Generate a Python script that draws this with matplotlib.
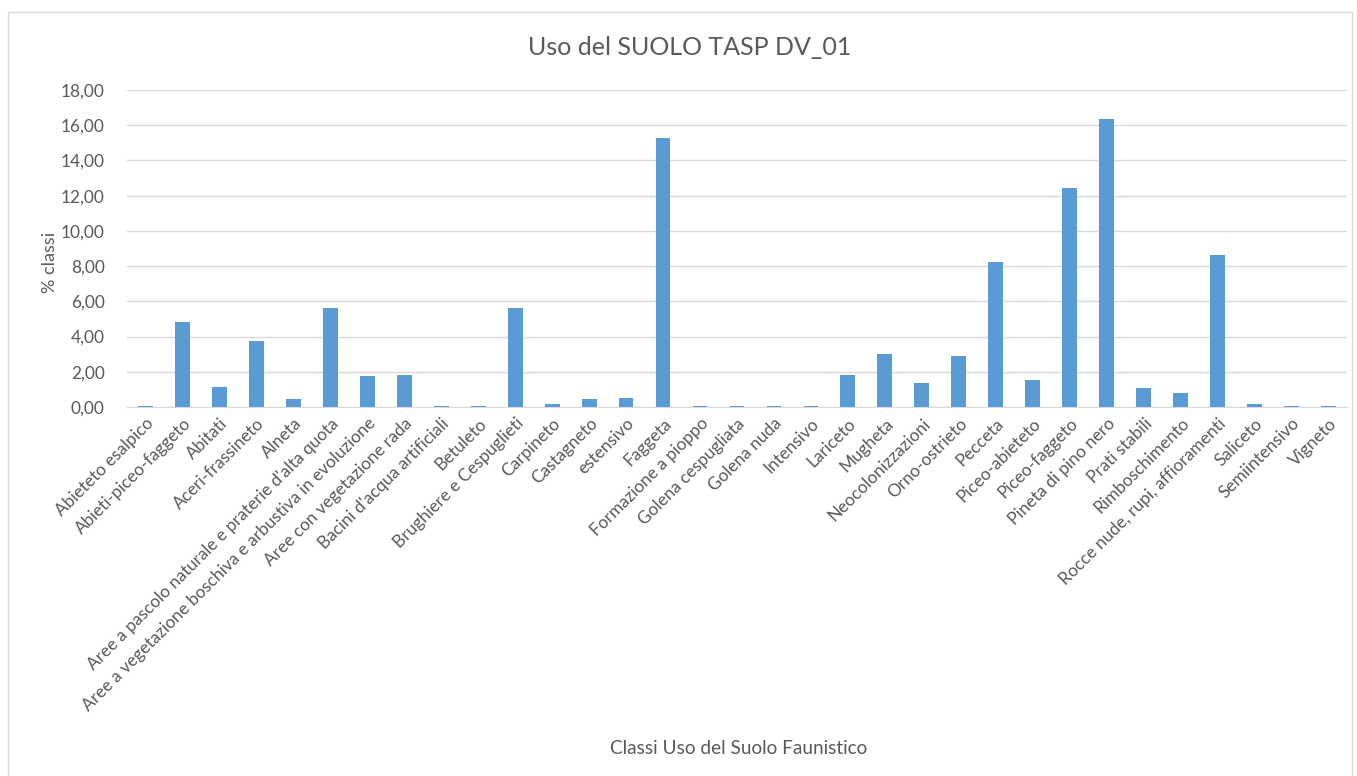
import numpy as np
import matplotlib.pyplot as plt
from matplotlib.patches import Rectangle
from matplotlib.ticker import FuncFormatter

plt.rcParams['font.family'] = ['Lato', 'DejaVu Sans']

# Classi uso del suolo e percentuali
classi = ['Abieteto esalpico', 'Abieti-piceo-faggeto', 'Abitati', 'Aceri-frassineto',
          'Alneta', "Aree a pascolo naturale e praterie d'alta quota",
          'Aree a vegetazione boschiva e arbustiva in evoluzione',
          'Aree con vegetazione rada', "Bacini d'acqua artificiali", 'Betuleto',
          'Brughiere e Cespuglieti', 'Carpineto', 'Castagneto', 'estensivo', 'Faggeta',
          'Formazione a pioppo', 'Golena cespugliata', 'Golena nuda', 'Intensivo',
          'Lariceto', 'Mugheta', 'Neocolonizzazioni', 'Orno-ostrieto', 'Pecceta',
          'Piceo-abieteto', 'Piceo-faggeto', 'Pineta di pino nero', 'Prati stabili',
          'Rimboschimento', 'Rocce nude, rupi, affioramenti', 'Saliceto',
          'Semiintensivo', 'Vigneto']
percentuali = [0.08, 4.82, 1.15, 3.75, 0.45, 5.62, 1.75, 1.80, 0.06, 0.06,
               5.60, 0.15, 0.45, 0.50, 15.30, 0.06, 0.06, 0.06, 0.06,
               1.80, 3.03, 1.38, 2.88, 8.25, 1.52, 12.45, 16.35, 1.10,
               0.80, 8.65, 0.15, 0.06, 0.06]

grigio = '#595959'

fig = plt.figure(figsize=(13.57, 7.76), dpi=100)
ax = fig.add_axes([0.0936, 0.4755, 0.899, 0.4085])

x = np.arange(len(classi))
ax.bar(x, percentuali, width=0.4, color='#5b9bd5', zorder=3)

ax.set_xlim(-0.5, len(classi) - 0.5)
ax.set_ylim(0, 18)
ax.set_yticks(np.arange(0, 19, 2))
ax.yaxis.set_major_formatter(FuncFormatter(lambda v, p: f'{v:.2f}'.replace('.', ',')))
ax.grid(axis='y', color='#d9d9d9', linewidth=1, zorder=0)

ax.set_xticks(x)
ax.set_xticklabels(classi, rotation=45, ha='right', rotation_mode='anchor')
ax.tick_params(axis='both', length=0, labelsize=12.4, labelcolor=grigio)
ax.tick_params(axis='x', pad=6)
ax.tick_params(axis='y', pad=16)

for s in ['top', 'right', 'left']:
    ax.spines[s].set_visible(False)
ax.spines['bottom'].set_color('#d9d9d9')

fig.text(0.508, 0.939, 'Uso del SUOLO TASP DV_01', ha='center', va='center',
         fontsize=18, color=grigio)
fig.text(0.037, 0.662, '% classi', rotation=90, ha='center', va='center',
         fontsize=13, color=grigio)
fig.text(0.544, 0.036, 'Classi Uso del Suolo Faunistico', ha='center', va='center',
         fontsize=13.7, color=grigio)

# bordo del grafico
fig.patches.append(Rectangle((0.006, -0.01), 0.99, 0.995, transform=fig.transFigure,
                             fill=False, edgecolor='#d9d9d9', linewidth=1))

fig.savefig('out.png', dpi=100)
